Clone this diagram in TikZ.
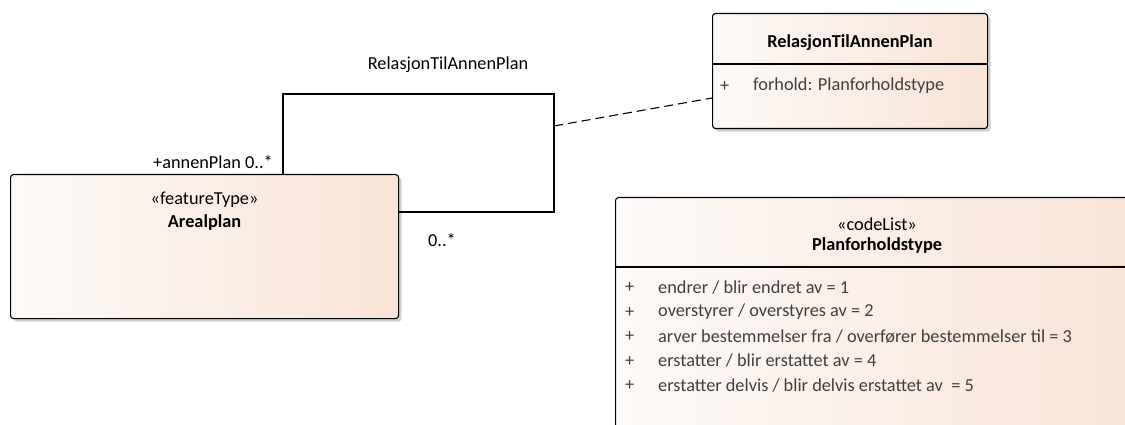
\documentclass[tikz,border=0pt]{standalone}
\usepackage{fontspec}
\setmainfont{Carlito}
\usepackage{xcolor}
\usepackage{tikz}
\usetikzlibrary{shadows}
\definecolor{boxleft}{HTML}{FDFAF8}
\definecolor{boxright}{HTML}{F8E3D5}
\definecolor{attrgray}{HTML}{404040}
\tikzset{
  classbox/.style={draw=black, line width=1.1pt, rounded corners=3pt,
    left color=boxleft, right color=boxright, anchor=north west,
    inner sep=0pt,
    drop shadow={shadow xshift=3pt, shadow yshift=-3pt, fill=black!18, opacity=1}},
  txt/.style={font=\fontsize{18.3}{21}\selectfont, inner sep=0pt},
  bold/.style={txt, font=\fontsize{18.3}{21}\selectfont\bfseries},
  attr/.style={txt, text=attrgray, anchor=west},
  conn/.style={line width=1.1pt, black}
}

\begin{document}
\begin{tikzpicture}[x=1pt,y=-1pt]
\clip (0,0) rectangle (1125,425);
\fill[white] (0,0) rectangle (1125,425);
% Class boxes
\node[classbox, minimum width=388pt, minimum height=144pt] (areal) at (10,174) {};
\node[classbox, minimum width=275pt, minimum height=115pt] (relbox) at (712,13) {};
\node[classbox, minimum width=530pt, minimum height=260pt] (codebox) at (615,197) {};
% Compartment lines
\draw[line width=1.1pt] (relbox.west |- 0,64) -- (relbox.east |- 0,64);
\draw[line width=1.1pt] (codebox.west |- 0,267) -- (codebox.east |- 0,267);
% Arealplan
\node[txt] (arealst) at (areal.north |- 0,200) {«featureType»};
\node[bold] (arealname) at (areal.north |- 0,223) {Arealplan};
% RelasjonTilAnnenPlan
\node[bold] (relname) at (relbox.north |- 0,43) {RelasjonTilAnnenPlan};
\node[attr] (relplus) at (720,86) {+};
\node[attr] (relattr) at (753,86) {forhold: Planforholdstype};
% Planforholdstype
\node[txt] (codest) at (877,224) {«codeList»};
\node[bold] (codename) at (877,246) {Planforholdstype};
\foreach \val [count=\i] in {endrer / blir endret av = 1,
    overstyrer / overstyres av = 2,
    arver bestemmelser fra / overfører bestemmelser til = 3,
    erstatter / blir erstattet av = 4,
    erstatter delvis / blir delvis erstattet av\ \ = 5}{
  \node[attr] (plus\i) at (625,263+24.5*\i) {+};
  \node[attr] (lit\i) at (658,263+24.5*\i) {\val};
}
% Self association on Arealplan
\coordinate (bendA) at (283,94);
\coordinate (bendB) at (554,94);
\coordinate (bendC) at (554,212);
\coordinate (assoc) at (554,126);
\draw[conn] (bendA |- areal.north) -- (bendA) -- (bendB) -- (bendC) -- (bendC -| areal.east);
\draw[conn, dash pattern=on 9pt off 5pt] (assoc) -- (relbox.west |- 0,98);
% Association labels
\node[txt] (assocname) at (448,65) {RelasjonTilAnnenPlan};
\node[txt, anchor=east] (rolea) at (273,162) {+annenPlan 0..*};
\node[txt, anchor=west] (roleb) at (428,240) {0..*};
\end{tikzpicture}
\end{document}
